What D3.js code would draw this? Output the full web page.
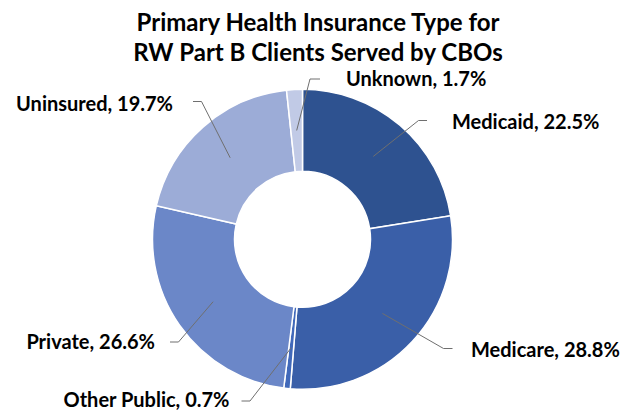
<!DOCTYPE html>
<html>
<head>
<meta charset="utf-8">
<script src="https://cdn.jsdelivr.net/npm/d3@7"></script>
<style>
  body { margin: 0; background: #fff; }
  text { font-family: Lato, "Open Sans", sans-serif; font-weight: bold; fill: #000; }
</style>
</head>
<body>
<svg width="628" height="413"></svg>
<script>
// chart data
const categories = ["Medicaid", "Medicare", "Other Public", "Private", "Uninsured", "Unknown"];
const shares = [22.5, 28.8, 0.7, 26.6, 19.7, 1.7];
const colors = ["#2e5290", "#3a5fa8", "#4169ba", "#6b87c8", "#9cacd7", "#c1cae6"];
const titleLines = ["Primary Health Insurance Type for", "RW Part B Clients Served by CBOs"];

const svg = d3.select("svg");
const cx = 302.5, cy = 239.3;
const outerR = 150, innerR = 68;

// where each label sits (text anchor point + elbow of its leader line)
const labelLayout = {
    "Medicaid":     { x: 452, y: 129, anchor: "start", line: [[427, 120.5], [418.5, 120.5]] },
    "Medicare":     { x: 471, y: 356.5, anchor: "start", line: [[452.5, 348.5], [443.5, 348.5]] },
    "Other Public": { x: 229.5, y: 407, anchor: "end", line: [[241.5, 401], [250, 401]] },
    "Private":      { x: 155, y: 349, anchor: "end", line: [[170, 342], [178.5, 342]] },
    "Uninsured":    { x: 173, y: 110.5, anchor: "end", line: [[193, 101.5], [201.5, 101.5]] },
    "Unknown":      { x: 346, y: 86, anchor: "start", line: [[320, 79], [310, 79]] }
};

const data = categories.map((c, i) => ({ name: c, value: shares[i], color: colors[i] }));

const pie = d3.pie().value(d => d.value).sort(null);
const arc = d3.arc().innerRadius(innerR).outerRadius(outerR);
const midArc = d3.arc().innerRadius((innerR + outerR) / 2).outerRadius((innerR + outerR) / 2);

const arcs = pie(data);

const g = svg.append("g").attr("transform", `translate(${cx},${cy})`);

g.selectAll("path.slice")
    .data(arcs)
    .join("path")
    .attr("class", "slice")
    .attr("d", arc)
    .attr("fill", d => d.data.color)
    .attr("stroke", "#fff")
    .attr("stroke-width", 1.5);

// leader lines: label elbow -> slice centroid
svg.append("g")
    .selectAll("polyline")
    .data(arcs)
    .join("polyline")
    .attr("fill", "none")
    .attr("stroke", "#6f6f6f")
    .attr("stroke-width", 1)
    .attr("points", d => {
        const L = labelLayout[d.data.name];
        const c = midArc.centroid(d);
        return [...L.line, [c[0] + cx, c[1] + cy]].map(p => p.join(",")).join(" ");
    });

svg.append("g")
    .selectAll("text")
    .data(arcs)
    .join("text")
    .attr("x", d => labelLayout[d.data.name].x)
    .attr("y", d => labelLayout[d.data.name].y)
    .attr("text-anchor", d => labelLayout[d.data.name].anchor)
    .style("font-size", "20px")
    .text(d => `${d.data.name}, ${d.data.value.toFixed(1)}%`);

svg.append("g")
    .selectAll("text")
    .data(titleLines)
    .join("text")
    .attr("x", 318)
    .attr("y", (d, i) => 31 + i * 29.7)
    .attr("text-anchor", "middle")
    .style("font-size", "24px")
    .text(d => d);
</script>
</body>
</html>
